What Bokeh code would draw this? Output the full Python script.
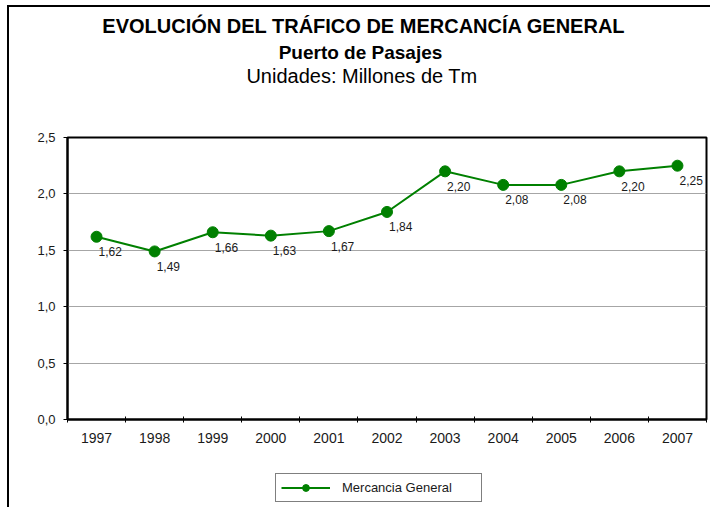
from bokeh.plotting import figure
from bokeh.models import (FixedTicker, Legend, LegendItem,
                          ColumnDataSource, Range1d)
from bokeh.layouts import column
from bokeh.embed import file_html
from bokeh.resources import INLINE
from bokeh.core.properties import value

# ---- data ----
years = ["1997", "1998", "1999", "2000", "2001", "2002",
         "2003", "2004", "2005", "2006", "2007"]
mercancia = [1.62, 1.49, 1.66, 1.63, 1.67, 1.84, 2.20, 2.08, 2.08, 2.20, 2.25]
y_ticks = [0.0, 0.5, 1.0, 1.5, 2.0, 2.5]
y_tick_labels = ["0,0", "0,5", "1,0", "1,5", "2,0", "2,5"]
series_name = "Mercancia General"
title_main = "EVOLUCIÓN DEL TRÁFICO DE MERCANCÍA GENERAL"
title_sub = "Puerto de Pasajes"
title_units = "Unidades: Millones de Tm"

FONT = "Liberation Sans"
GREEN = "#008000"
TXT = "#1a1a1a"
W = 701
BL, BR, BT = 58, 4, 6   # borders shared by all stacked figures
X0, Y0 = 9, 7           # page position of the layout content

n = len(years)
xs = [i + 0.5 for i in range(n)]
point_labels = [f"{v:.2f}".replace(".", ",") for v in mercancia]


def blank(height, y_top):
    # frame spans page x from X0+BL to X0+W-BR; ranges expressed in page pixels
    f = figure(width=W, height=height, output_backend="svg", toolbar_location=None,
               x_range=Range1d(X0 + BL, X0 + W - BR),
               y_range=Range1d(y_top + height, y_top + BT),
               x_axis_type=None, y_axis_type=None,
               min_border_left=BL, min_border_right=BR,
               min_border_top=BT, min_border_bottom=0)
    f.outline_line_color = None
    f.background_fill_color = "white"
    f.border_fill_color = "white"
    return f


# ---- titles ----
TH = 124
top = blank(TH, Y0)
for txt, cx, base, size, style in [
    (title_main, 363.5, 25.5, "20px", "bold"),
    (title_sub, 360, 51.5, "19px", "bold"),
    (title_units, 361.5, 75.5, "20px", "normal"),
]:
    top.text(x=[cx], y=[base], text=[txt], text_align="center",
             text_baseline="alphabetic", text_font=value(FONT),
             text_font_size=size, text_font_style=style, text_color="black")

# ---- chart ----
CH = 329
p = figure(width=W, height=CH, output_backend="svg", toolbar_location=None,
           x_range=Range1d(0, n), y_range=Range1d(0, 2.5),
           min_border_left=BL, min_border_right=BR,
           min_border_top=BT, min_border_bottom=41)
p.background_fill_color = "white"
p.border_fill_color = "white"
p.outline_line_color = "black"
p.outline_line_width = 2

p.xaxis.ticker = FixedTicker(ticks=xs, minor_ticks=list(range(n + 1)))
p.xaxis.major_label_overrides = {x: y for x, y in zip(xs, years)}
p.xaxis.major_tick_line_color = None
p.xaxis.major_tick_in = 0
p.xaxis.major_tick_out = 0
p.xaxis.minor_tick_line_color = "black"
p.xaxis.minor_tick_line_width = 1
p.xaxis.minor_tick_in = 3
p.xaxis.minor_tick_out = 3
p.xaxis.major_label_standoff = 10
p.xaxis.axis_line_width = 2
p.xaxis.axis_line_color = "black"
p.xaxis.major_label_text_font = FONT
p.xaxis.major_label_text_font_size = "14px"
p.xaxis.major_label_text_color = TXT

p.yaxis.ticker = FixedTicker(ticks=y_ticks, minor_ticks=[])
p.yaxis.major_label_overrides = {t: s for t, s in zip(y_ticks, y_tick_labels)}
p.yaxis.major_tick_in = 0
p.yaxis.major_tick_out = 4
p.yaxis.major_tick_line_color = "black"
p.yaxis.major_label_standoff = 8
p.yaxis.axis_line_width = 2
p.yaxis.axis_line_color = "black"
p.yaxis.major_label_text_font = FONT
p.yaxis.major_label_text_font_size = "13px"
p.yaxis.major_label_text_color = TXT

p.xgrid.visible = False
p.ygrid.ticker = FixedTicker(ticks=y_ticks, minor_ticks=[])
p.ygrid.grid_line_color = "#a6a6a6"
p.ygrid.grid_line_width = 1

src = ColumnDataSource(dict(x=xs, y=mercancia, label=point_labels))
p.line("x", "y", source=src, line_color=GREEN, line_width=2)
p.scatter("x", "y", source=src, size=11, fill_color=GREEN, line_color=GREEN)
p.text("x", "y", text="label", source=src, x_offset=2, y_offset=15,
       text_align="left", text_baseline="middle",
       text_font=value(FONT), text_font_size="12px", text_color=TXT)

# ---- legend ----
LH = 47
bot = blank(LH, Y0 + TH + CH)
# one point placed outside the visible range so that the legend glyphs have data
hidden = ColumnDataSource(dict(x=[0], y=[-100]))
leg_line = bot.line("x", "y", source=hidden, line_color=GREEN, line_width=2)
leg_pt = bot.scatter("x", "y", source=hidden, size=7, fill_color=GREEN, line_color=GREEN)
legend = Legend(items=[LegendItem(label=series_name, renderers=[leg_line, leg_pt])],
                location=(275 - (X0 + BL), 5), orientation="horizontal",
                border_line_color="black", border_line_width=1,
                background_fill_color="white", background_fill_alpha=1,
                label_text_font=FONT, label_text_font_size="13px",
                label_text_color=TXT,
                glyph_width=49, glyph_height=17, label_height=17,
                label_width=134, label_standoff=12, padding=5,
                margin=0, spacing=0)
bot.add_layout(legend)

layout = column(top, p, bot, spacing=0)
layout.styles = {"margin-left": "7px", "margin-top": "5px",
                 "border-left": "2px solid black", "border-top": "2px solid black"}

open("out.html", "w").write(file_html(layout, INLINE))
